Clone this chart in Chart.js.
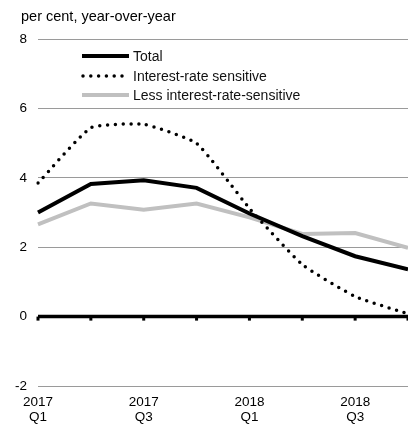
<!DOCTYPE html>
<html>
<head>
<meta charset="utf-8">
<script src="https://cdn.jsdelivr.net/npm/chart.js@4"></script>
<style>
  body { margin: 0; background: #fff; }
  #wrap { width: 408px; height: 424px; }
</style>
</head>
<body>
<div id="wrap"><canvas id="ratesChart" width="408" height="424"></canvas></div>
<script>
// =========================
// Data (per cent, year-over-year)
// =========================
const quarters = [
  ["2017", "Q1"], ["2017", "Q2"], ["2017", "Q3"], ["2017", "Q4"],
  ["2018", "Q1"], ["2018", "Q2"], ["2018", "Q3"], ["2018", "Q4"]
];
const total        = [3.0, 3.82, 3.93, 3.71, 2.97, 2.32, 1.74, 1.36];
const rateSens     = [3.85, 5.44, 5.54, 4.99, 3.12, 1.5, 0.58, 0.08];
const lessRateSens = [2.66, 3.26, 3.08, 3.26, 2.86, 2.38, 2.41, 1.98];
const yTicks = [-2, 0, 2, 4, 6, 8];

const FONT = "'Liberation Sans', Arial, sans-serif";

// =========================
// Small plugins: subtitle, zero line with ticks, legend inside plot
// =========================
const extras = {
  id: "extras",
  beforeDatasetsDraw(chart) {
    const { ctx, scales: { x, y } } = chart;
    const y0 = y.getPixelForValue(0);
    ctx.save();
    ctx.strokeStyle = "#000";
    ctx.lineWidth = 3.5;
    ctx.beginPath();
    ctx.moveTo(chart.chartArea.left, y0);
    ctx.lineTo(chart.chartArea.right, y0);
    ctx.stroke();
    ctx.fillStyle = "#000";
    quarters.forEach((q, i) => {
      const px = x.getPixelForValue(i);
      ctx.fillRect(px - 1.5, y0, 3, 4);
    });
    ctx.restore();
  },
  afterDraw(chart) {
    const ctx = chart.ctx;
    ctx.save();
    ctx.fillStyle = "#000";
    ctx.font = "14.5px " + FONT;
    ctx.textBaseline = "alphabetic";
    ctx.fillText("per cent, year-over-year", 21, 21);

    // legend
    const rows = [
      { ds: 0, y: 56 },
      { ds: 1, y: 76 },
      { ds: 2, y: 95 }
    ];
    ctx.font = "14px " + FONT;
    ctx.textBaseline = "middle";
    rows.forEach(r => {
      const d = chart.data.datasets[r.ds];
      ctx.save();
      ctx.strokeStyle = d.borderColor;
      ctx.lineWidth = d.borderWidth;
      ctx.lineCap = d.borderCapStyle || "butt";
      ctx.setLineDash(d.borderDash || []);
      ctx.beginPath();
      ctx.moveTo(d.borderDash ? 83 : 82, r.y);
      ctx.lineTo(129, r.y);
      ctx.stroke();
      ctx.restore();
      ctx.fillStyle = "#111";
      ctx.fillText(d.label, 133, r.y + 1);
    });
    ctx.restore();
  }
};

// =========================
// Chart
// =========================
const ctx = document.getElementById("ratesChart").getContext("2d");

const ratesChart = new Chart(ctx, {
  type: "line",
  data: {
    labels: quarters,
    datasets: [
      {
        label: "Total",
        data: total,
        borderColor: "#000",
        borderWidth: 4,
        pointRadius: 0,
        tension: 0,
        order: 1
      },
      {
        label: "Interest-rate sensitive",
        data: rateSens,
        borderColor: "#000",
        borderWidth: 3.5,
        borderDash: [0, 7.8],
        borderCapStyle: "round",
        pointRadius: 0,
        tension: 0.15,
        order: 0
      },
      {
        label: "Less interest-rate-sensitive",
        data: lessRateSens,
        borderColor: "#c0c0c0",
        borderWidth: 4,
        pointRadius: 0,
        tension: 0,
        order: 2
      }
    ]
  },
  options: {
    responsive: false,
    animation: false,
    devicePixelRatio: 1,
    layout: { padding: { top: 39, right: 0, bottom: 0, left: 0 } },
    plugins: {
      legend: { display: false },
      tooltip: { enabled: false }
    },
    scales: {
      x: {
        offset: false,
        grid: { display: false, drawTicks: false },
        border: { display: false },
        afterFit: s => { s.height = 38; s.paddingLeft = 0; s.paddingRight = 0; },
        ticks: {
          autoSkip: false,
          maxRotation: 0,
          padding: 9,
          color: "#000",
          font: { family: FONT, size: 13.5, lineHeight: 1.1 },
          callback: (v, i) => (i % 2 === 0 ? quarters[i] : "")
        }
      },
      y: {
        min: -2,
        max: 8,
        afterFit: s => { s.width = 38; },
        afterBuildTicks: s => { s.ticks = yTicks.map(v => ({ value: v })); },
        grid: {
          drawTicks: false,
          color: c => (c.tick && c.tick.value === 0 ? "rgba(0,0,0,0)" : "#9a9a9a"),
          lineWidth: 1
        },
        border: { display: false },
        ticks: {
          padding: 11,
          color: "#000",
          font: { family: FONT, size: 13.5 }
        }
      }
    }
  },
  plugins: [extras]
});
</script>
</body>
</html>
